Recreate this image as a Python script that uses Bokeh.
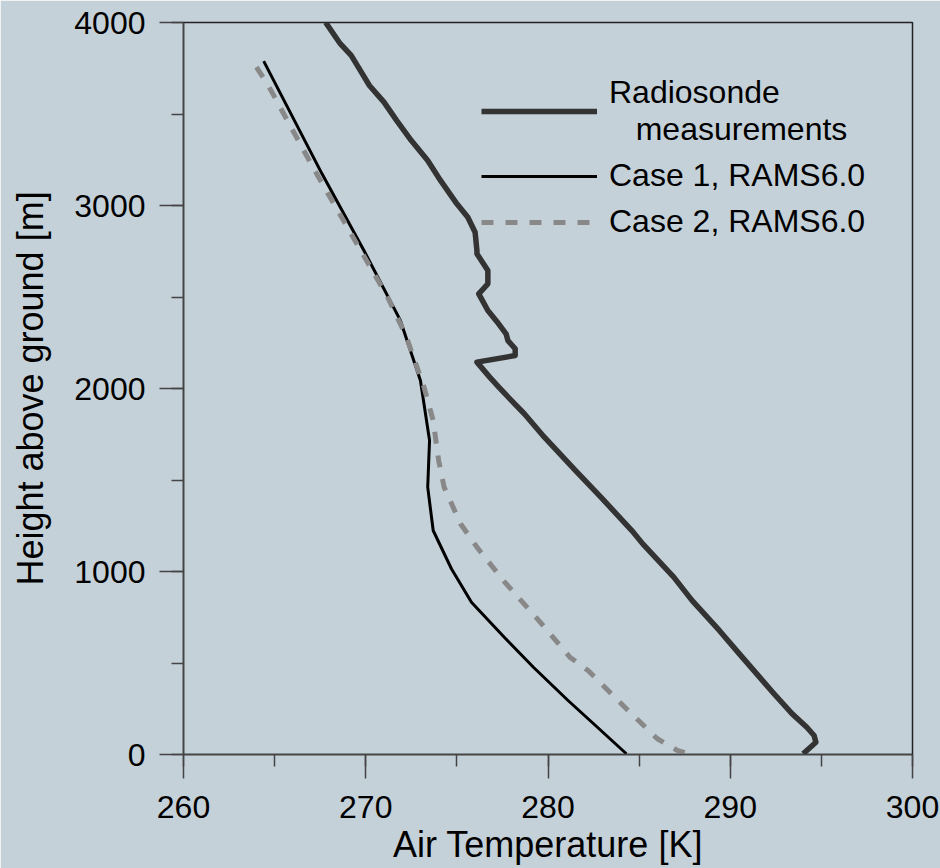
from bokeh.plotting import figure
from bokeh.models import Range1d, SingleIntervalTicker, Legend, LegendItem
from bokeh.embed import file_html
from bokeh.resources import INLINE

# ---- data ----
radio_T = [267.8, 268.6, 269.2, 269.7, 270.2, 271.0, 271.7, 272.5, 273.4, 274.1,
           275.0, 275.6, 276.0, 276.1, 276.1, 276.7, 276.7, 276.2, 276.7, 277.2,
           277.7, 277.8, 278.2, 278.2, 276.1, 276.8, 277.3, 278.0, 278.7, 279.8,
           281.5, 282.9, 284.6, 285.2, 286.9, 287.9, 289.4, 290.5, 292.4, 293.4,
           294.2, 294.6, 294.7, 294.4, 294.0]
radio_h = [4000, 3884, 3820, 3738, 3656, 3565, 3464, 3355, 3246, 3137,
           3009, 2936, 2854, 2754, 2736, 2645, 2572, 2517, 2426, 2365,
           2299, 2262, 2217, 2180, 2144, 2062, 2007, 1934, 1862, 1734,
           1552, 1406, 1224, 1151, 969, 842, 678, 550, 332, 222,
           149, 104, 67, 40, 4]

case1_T = [264.4, 267.6, 269.9, 271.9, 273.0, 273.5, 273.4, 273.7, 274.7, 275.8,
           277.6, 279.2, 281.1, 282.5, 284.3]
case1_h = [3789, 3173, 2754, 2372, 2044, 1716, 1461, 1224, 1015, 832,
           641, 477, 295, 168, 4]

case2_T = [264.0, 264.6, 265.9, 267.2, 269.2, 271.2, 272.2, 273.2, 273.7, 274.0,
           274.3, 275.2, 276.1, 277.6, 279.5, 281.2, 282.2, 283.3, 284.3, 286.0,
           287.1, 287.5]
case2_h = [3756, 3665, 3428, 3191, 2845, 2499, 2290, 2007, 1825, 1607,
           1461, 1261, 1133, 945, 732, 532, 459, 350, 250, 86,
           22, 10]

labels = ["Radiosonde\n\u00a0\u00a0\u00a0measurements", "Case 1, RAMS6.0", "Case 2, RAMS6.0"]

BG = "#c5d1d8"
FONT = "Liberation Sans"

p = figure(width=940, height=868, output_backend="svg", toolbar_location=None,
           x_range=Range1d(260, 300), y_range=Range1d(0, 4000),
           min_border_left=183, min_border_right=28, min_border_top=22,
           min_border_bottom=114)
p.background_fill_color = BG
p.border_fill_color = BG
p.outline_line_color = "#222222"
p.outline_line_width = 1.5
p.xgrid.visible = False
p.ygrid.visible = False

r0 = p.line(radio_T, radio_h, line_color="#333333", line_width=5.5, line_join="round")
r1 = p.line(case1_T, case1_h, line_color="#000000", line_width=3)
r2 = p.line(case2_T, case2_h, line_color="#888888", line_width=5, line_dash="12 12")

p.xaxis.ticker = SingleIntervalTicker(interval=10, num_minor_ticks=2)
p.yaxis.ticker = SingleIntervalTicker(interval=1000, num_minor_ticks=2)

for ax in (p.xaxis[0], p.yaxis[0]):
    ax.axis_line_color = "#444444"
    ax.axis_line_width = 1.5
    ax.major_tick_line_color = "#444444"
    ax.minor_tick_line_color = "#444444"
    ax.major_tick_line_width = 1.5
    ax.minor_tick_line_width = 1.5
    ax.major_tick_in = 0
    ax.minor_tick_in = 0
    ax.major_tick_out = 24
    ax.minor_tick_out = 12
    ax.major_label_text_font = FONT
    ax.major_label_text_font_size = "32px"
    ax.major_label_text_color = "#000000"
    ax.axis_label_text_font = FONT
    ax.axis_label_text_font_size = "36px"
    ax.axis_label_text_font_style = "normal"
    ax.axis_label_text_color = "#000000"

p.xaxis.axis_label = "Air Temperature [K]"
p.yaxis.axis_label = "Height above ground [m]"
p.xaxis.major_label_standoff = 17
p.xaxis.axis_label_standoff = 3
p.yaxis.major_label_standoff = 14
p.yaxis.axis_label_standoff = 20

legend = Legend(items=[LegendItem(label=labels[0], renderers=[r0]),
                       LegendItem(label=labels[1], renderers=[r1]),
                       LegendItem(label=labels[2], renderers=[r2])],
                location=(298, 514))
legend.background_fill_alpha = 0
legend.border_line_alpha = 0
legend.padding = 0
legend.margin = 0
legend.spacing = 9
legend.glyph_width = 116
legend.glyph_height = 30
legend.label_standoff = 12
legend.label_text_font = FONT
legend.label_text_font_size = "32px"
legend.label_text_color = "#000000"
legend.label_text_line_height = 1.2
p.add_layout(legend, "center")

open("out.html", "w").write(file_html(p, INLINE))
